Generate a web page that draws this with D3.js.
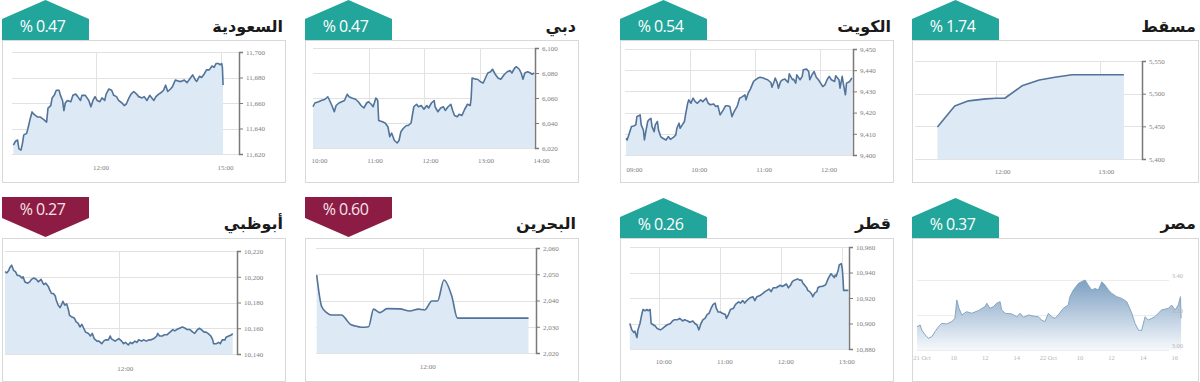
<!DOCTYPE html>
<html>
<head>
<meta charset="utf-8">
<script src="https://cdn.jsdelivr.net/npm/d3@7"></script>
<style>
body { margin: 0; background: #fff; }
svg { display: block; }
</style>
</head>
<body>
<div id="chart"></div>
<script>
// Markets, daily change and direction (badge)
const markets = ['السعودية', 'دبي', 'الكويت', 'مسقط', 'أبوظبي', 'البحرين', 'قطر', 'مصر'];
const changes = ['0.47', '0.47', '0.54', '1.74', '0.27', '0.60', '0.26', '0.37'];
const direction = ['up', 'up', 'up', 'up', 'down', 'down', 'up', 'up'];

// Series: [minutes since midnight, index value]
const saudi = [[600,11627],[603,11630],[606,11631],[608,11624],[611,11623],[613,11628],[615,11635],[619,11636],[621,11640],[624,11647],[627,11653],[630,11651],[635,11649],[639,11649],[644,11647],[648,11645],[650,11656],[654,11658],[656,11664],[659,11666],[662,11670],[666,11670],[668,11666],[671,11662],[673,11654],[675,11660],[678,11662],[683,11661],[686,11666],[690,11667],[693,11665],[697,11662],[699,11666],[704,11666],[709,11662],[712,11657],[715,11662],[718,11665],[721,11662],[725,11661],[728,11664],[732,11662],[734,11667],[738,11671],[742,11670],[745,11666],[749,11665],[752,11662],[757,11660],[760,11658],[763,11659],[767,11664],[770,11667],[774,11669],[778,11667],[781,11665],[786,11664],[789,11665],[793,11662],[797,11666],[800,11664],[803,11662],[806,11665],[810,11667],[813,11668],[817,11670],[820,11674],[823,11669],[827,11671],[830,11673],[834,11678],[839,11677],[843,11677],[847,11678],[851,11676],[855,11679],[859,11682],[863,11678],[865,11677],[869,11681],[872,11680],[876,11683],[879,11686],[883,11686],[887,11689],[890,11688],[893,11691],[896,11691],[899,11690],[901,11691],[902,11688],[903,11674]];
const dubai = [[600,6053],[602,6056],[606,6057],[609,6058],[613,6059],[616,6061],[618,6058],[621,6053],[623,6049],[625,6054],[628,6056],[631,6057],[634,6058],[637,6063],[639,6061],[642,6060],[646,6059],[649,6057],[652,6054],[655,6052],[658,6056],[660,6057],[663,6055],[665,6053],[668,6060],[670,6058],[671,6042],[675,6041],[678,6040],[681,6037],[683,6029],[685,6032],[688,6026],[691,6024],[693,6026],[695,6033],[698,6036],[701,6038],[703,6038],[706,6040],[709,6053],[712,6055],[714,6053],[717,6054],[720,6051],[723,6054],[725,6052],[728,6056],[731,6058],[732,6053],[735,6049],[738,6052],[741,6053],[743,6050],[746,6053],[749,6055],[751,6050],[753,6046],[756,6045],[758,6047],[761,6046],[764,6051],[767,6055],[770,6054],[771,6060],[772,6076],[776,6075],[778,6075],[781,6073],[784,6072],[787,6077],[789,6080],[792,6081],[794,6083],[797,6079],[800,6076],[803,6075],[805,6077],[807,6079],[810,6081],[813,6082],[815,6080],[818,6084],[820,6085],[823,6083],[825,6080],[827,6075],[829,6080],[832,6081],[835,6080],[837,6079],[839,6080]];
const kuwait = [[541,9407.9],[542,9407.1],[544,9410.3],[546,9413.4],[548,9413.7],[550,9414.2],[551,9418.1],[554,9418.9],[555,9414.2],[557,9411.8],[558,9407.1],[559,9410.3],[561,9415.8],[562,9416.6],[564,9417.3],[565,9413.4],[567,9411],[568,9414.2],[570,9415.8],[571,9411.8],[573,9408.7],[575,9407.9],[578,9407.1],[580,9408.7],[582,9407.4],[585,9408.4],[587,9409.5],[588,9412.6],[590,9415],[591,9412.6],[593,9414.2],[595,9415.8],[596,9418.9],[598,9424.4],[599,9426],[601,9424.4],[603,9426.8],[605,9425.2],[607,9424.4],[610,9426],[612,9425.2],[615,9426.8],[617,9424.4],[619,9423.7],[622,9424.1],[624,9422.9],[626,9423.2],[628,9418.9],[631,9421.3],[633,9423.2],[635,9423.2],[637,9422.9],[639,9418.1],[641,9420.5],[644,9423.2],[646,9426.8],[648,9427.3],[651,9428.4],[652,9426],[654,9429.2],[656,9431.1],[659,9434.7],[661,9435.5],[663,9436.3],[665,9436.7],[668,9436.3],[670,9435.8],[672,9435.5],[675,9434.2],[676,9432],[678,9434.7],[679,9436.3],[681,9433.9],[682,9431.5],[684,9434.7],[686,9435.5],[688,9435.8],[691,9434.2],[692,9438.3],[695,9435.5],[696,9435.8],[698,9433.9],[699,9437.8],[702,9435.5],[704,9437.1],[705,9440.2],[708,9440.5],[710,9439.4],[711,9435.5],[713,9437.8],[715,9439.4],[717,9436.7],[719,9435.5],[721,9433.9],[723,9432.3],[725,9433.1],[727,9435.5],[729,9437.1],[731,9435.5],[734,9434.7],[735,9437.4],[738,9435.5],[739,9431.5],[741,9437.1],[742,9433.9],[744,9428.4],[745,9433.9],[748,9434.7],[750,9436.3]];
const muscat = [[686,5449],[696,5481],[704,5489],[714,5492],[720,5493],[725,5493],[735,5512],[745,5521],[754,5525],[764,5529],[794,5529]];
const abuDhabi = [[600,10204],[602,10203],[604,10205],[605,10207],[607,10209],[609,10205],[611,10204],[613,10201],[615,10201],[618,10199],[619,10200],[621,10196],[624,10195],[626,10196],[628,10198],[630,10199],[633,10198],[635,10196],[638,10198],[640,10195],[641,10194],[643,10195],[646,10192],[647,10190],[649,10187],[651,10187],[653,10185],[654,10182],[656,10178],[658,10176],[660,10179],[661,10181],[663,10178],[665,10179],[667,10174],[668,10170],[670,10169],[673,10168],[675,10165],[677,10164],[679,10161],[681,10163],[683,10160],[685,10157],[688,10156],[690,10154],[692,10156],[694,10152],[697,10150],[699,10150],[702,10148],[704,10150],[706,10151],[709,10151],[711,10154],[712,10152],[714,10151],[716,10150],[718,10151],[720,10152],[723,10150],[725,10148],[727,10149],[730,10147],[732,10149],[734,10148],[737,10150],[739,10149],[741,10151],[744,10150],[746,10151],[749,10150],[752,10151],[754,10151],[757,10152],[760,10154],[761,10156],[763,10154],[766,10154],[768,10155],[771,10155],[774,10157],[777,10159],[779,10158],[781,10159],[784,10160],[787,10161],[790,10160],[792,10159],[795,10159],[798,10157],[800,10156],[803,10159],[805,10160],[807,10159],[810,10157],[812,10157],[814,10156],[817,10154],[819,10151],[820,10148],[823,10148],[825,10149],[827,10148],[829,10151],[832,10151],[833,10153],[836,10154],[839,10155],[840,10156]];
const bahrain = [[570,2049.7],[577,2037.7],[584,2035.4],[591,2034.5],[605,2034.5],[612,2032.6],[617,2031],[624,2030.3],[633,2029.8],[643,2030],[650,2036.7],[659,2035.4],[669,2036.9],[687,2036.8],[701,2036],[713,2036.7],[722,2036.4],[732,2039.8],[740,2039.8],[749,2047.8],[760,2041.7],[768,2033.3],[781,2033.3],[868,2033.3]];
const qatar = [[571,10900],[573,10895],[575,10893],[576,10894],[578,10889],[579,10895],[581,10900],[583,10908],[584,10911],[586,10910],[588,10911],[589,10910],[591,10911],[592,10900],[594,10899],[596,10898],[598,10896],[601,10895],[603,10896],[606,10898],[608,10899],[611,10900],[613,10902],[615,10903],[618,10903],[620,10904],[623,10902],[625,10903],[628,10902],[630,10901],[633,10902],[635,10900],[637,10899],[639,10895],[641,10900],[643,10903],[645,10904],[647,10907],[649,10908],[651,10912],[653,10915],[655,10916],[656,10912],[658,10909],[660,10909],[662,10908],[665,10907],[666,10904],[668,10907],[670,10911],[673,10912],[675,10915],[678,10917],[680,10916],[682,10918],[684,10916],[686,10918],[689,10920],[692,10921],[694,10918],[696,10921],[699,10922],[701,10923],[704,10925],[706,10926],[708,10927],[710,10925],[712,10928],[715,10928],[717,10929],[719,10930],[721,10929],[723,10930],[725,10931],[727,10928],[729,10930],[731,10933],[733,10934],[736,10935],[738,10934],[740,10934],[741,10932],[743,10930],[745,10928],[746,10926],[748,10925],[750,10923],[751,10921],[753,10924],[755,10925],[756,10928],[758,10929],[760,10929],[763,10930],[764,10931],[766,10935],[768,10938],[769,10939],[770,10938],[772,10936],[773,10938],[774,10937],[776,10942],[777,10946],[779,10947],[780,10943],[780.7,10935],[781.3,10926],[783,10926],[786,10926]];
// Egypt: [position on the date axis, index value in thousands]
const egypt = [[-0.16,3.133],[-0.06,3.143],[-0.01,3.114],[0.1,3.086],[0.2,3.067],[0.31,3.076],[0.41,3.105],[0.52,3.133],[0.62,3.152],[0.78,3.149],[0.94,3.162],[1.04,3.181],[1.1,3.286],[1.17,3.238],[1.26,3.2],[1.41,3.219],[1.57,3.21],[1.78,3.225],[1.99,3.248],[2.05,3.267],[2.15,3.238],[2.26,3.248],[2.36,3.267],[2.47,3.276],[2.52,3.229],[2.63,3.21],[2.84,3.206],[3.0,3.19],[3.1,3.21],[3.21,3.187],[3.37,3.2],[3.52,3.194],[3.68,3.19],[3.79,3.171],[3.89,3.162],[4.0,3.21],[4.1,3.19],[4.21,3.181],[4.31,3.2],[4.47,3.238],[4.63,3.257],[4.68,3.305],[4.79,3.343],[4.95,3.381],[5.16,3.4],[5.26,3.371],[5.37,3.343],[5.48,3.352],[5.58,3.343],[5.69,3.39],[5.79,3.371],[5.9,3.343],[6.0,3.324],[6.16,3.305],[6.32,3.295],[6.48,3.276],[6.64,3.21],[6.74,3.152],[6.85,3.114],[6.95,3.111],[7.06,3.19],[7.16,3.171],[7.27,3.181],[7.37,3.19],[7.58,3.229],[7.8,3.238],[7.9,3.257],[8.01,3.229],[8.11,3.257],[8.18,3.305],[8.2,3.181]];

// Tick values
const saudiY = [11620, 11640, 11660, 11680, 11700];
const saudiX = [720, 900];
const dubaiY = [6020, 6040, 6060, 6080, 6100];
const dubaiX = [600, 660, 720, 780, 840];
const kuwaitY = [9400, 9410, 9420, 9430, 9440, 9450];
const kuwaitX = [540, 600, 660, 720];
const muscatY = [5400, 5450, 5500, 5550];
const muscatX = [720, 780];
const abuDhabiY = [10140, 10160, 10180, 10200, 10220];
const abuDhabiX = [720];
const bahrainY = [2020, 2030, 2040, 2050, 2060];
const bahrainX = [720];
const qatarY = [10880, 10900, 10920, 10940, 10960];
const qatarX = [600, 660, 720, 780];
const egyptY = [3.0, 3.2, 3.4];
const egyptX = [0, 1, 2, 3, 4, 5, 6, 7, 8];
const egyptXLabels = ['21 Oct', '10', '12', '14', '22 Oct', '10', '12', '14', '16'];

const W = 1200, H = 382;
const teal = '#22a59b', wine = '#8c1c43';
const lineColor = '#52739a', fillColor = '#dde9f4';

const svg = d3.select('#chart').append('svg')
    .attr('width', W)
    .attr('height', H);

// Gradient for the Egypt chart
const grad = svg.append('defs').append('linearGradient')
    .attr('id', 'egyptFill')
    .attr('gradientUnits', 'userSpaceOnUse')
    .attr('x1', 0).attr('x2', 0).attr('y1', 268).attr('y2', 350);
grad.append('stop').attr('offset', 0).attr('stop-color', '#6890b8');
grad.append('stop').attr('offset', 1).attr('stop-color', '#f6f9fc');

const hhmm = m => `${String(Math.floor(m / 60)).padStart(2, '0')}:${String(m % 60).padStart(2, '0')}`;

// Layout of each panel: box, plot area (x0, x1, yTop, yBottom)
const panels = [
    { data: saudi, box: [2, 40, 285, 182], plot: [12, 239, 52, 154], xDomain: [598, 926], yDomain: [11620, 11700], yTicks: saudiY, xTicks: saudiX, labelY: 169, dx: 4 },
    { data: dubai, box: [305, 40, 578, 182], plot: [313, 535, 48, 148], xDomain: [600, 840], yDomain: [6020, 6100], yTicks: dubaiY, xTicks: dubaiX, labelY: 162, dx: 6 },
    { data: kuwait, box: [620, 40, 893, 182], plot: [625, 853, 49, 155], xDomain: [540, 751], yDomain: [9400, 9450], yTicks: kuwaitY, xTicks: kuwaitX, labelY: 171, dx: 9 },
    { data: muscat, box: [912, 40, 1198, 182], plot: [915, 1142, 61, 159], xDomain: [673, 804.5], yDomain: [5400, 5550], yTicks: muscatY, xTicks: muscatX, labelY: 173, dx: 6 },
    { data: abuDhabi, box: [2, 238, 285, 381], plot: [5, 237, 251, 354], xDomain: [600, 844.6], yDomain: [10140, 10220], yTicks: abuDhabiY, xTicks: abuDhabiX, labelY: 370, dx: 6 },
    { data: bahrain, box: [305, 238, 578, 381], plot: [316, 536, 248, 353], xDomain: [569, 878.5], yDomain: [2020, 2060], yTicks: bahrainY, xTicks: bahrainX, labelY: 368, dx: 4, curve: d3.curveMonotoneX },
    { data: qatar, box: [620, 238, 893, 381], plot: [630, 849, 247, 349], xDomain: [571.2, 786.6], yDomain: [10880, 10960], yTicks: qatarY, xTicks: qatarX, labelY: 363, dx: 4 },
    { data: egypt, box: [912, 238, 1198, 381], plot: [917, 1183, 280, 350], xDomain: [-0.16, 8.26], yDomain: [3.0, 3.4], yTicks: egyptY, xTicks: egyptX, labelY: 358, dx: 0, egypt: true }
];

panels.forEach((p, i) => {
    const g = svg.append('g');
    const [bx0, by0, bx1, by1] = p.box;
    const [px0, px1, pyTop, pyBot] = p.plot;

    // dotted frame
    g.append('rect')
        .attr('x', bx0 + 0.5).attr('y', by0 + 0.5)
        .attr('width', bx1 - bx0).attr('height', by1 - by0)
        .attr('fill', 'none')
        .attr('stroke', '#b0b0b0')
        .attr('stroke-dasharray', '1,1');

    const x = d3.scaleLinear().domain(p.xDomain).range([px0, px1]);
    const y = d3.scaleLinear().domain(p.yDomain).range([pyBot, pyTop]);

    // horizontal grid
    g.selectAll('.hgrid')
        .data(p.yTicks)
        .enter()
        .append('line')
        .attr('x1', px0).attr('x2', p.egypt ? px1 - 14 : px1)
        .attr('y1', d => Math.round(y(d)) + 0.5).attr('y2', d => Math.round(y(d)) + 0.5)
        .attr('stroke', p.egypt ? '#ececec' : '#e2e2e2');

    // vertical grid
    if (!p.egypt) {
        g.selectAll('.vgrid')
            .data(p.xTicks.filter(t => x(t) > px0 + 3 && x(t) < px1 - 3))
            .enter()
            .append('line')
            .attr('x1', d => Math.round(x(d)) + 0.5).attr('x2', d => Math.round(x(d)) + 0.5)
            .attr('y1', pyTop).attr('y2', pyBot)
            .attr('stroke', '#e2e2e2');
    }

    const curve = p.curve || d3.curveLinear;
    const area = d3.area()
        .x(d => x(d[0]))
        .y0(y(p.yDomain[0]))
        .y1(d => y(d[1]))
        .curve(curve);
    const line = d3.line()
        .x(d => x(d[0]))
        .y(d => y(d[1]))
        .curve(curve);

    g.append('path')
        .datum(p.data)
        .attr('d', area)
        .attr('fill', p.egypt ? 'url(#egyptFill)' : fillColor);

    g.append('path')
        .datum(p.data)
        .attr('d', line)
        .attr('fill', 'none')
        .attr('stroke', p.egypt ? '#86a6c4' : lineColor)
        .attr('stroke-width', p.egypt ? 1 : 1.6)
        .attr('stroke-linejoin', 'round');

    // axes
    if (p.egypt) {
        g.selectAll('.ylab')
            .data(p.yTicks)
            .enter()
            .append('text')
            .attr('x', px1)
            .attr('y', d => y(d) - 2)
            .attr('text-anchor', 'end')
            .attr('font-family', 'Liberation Serif, serif')
            .attr('font-size', 6.5)
            .attr('fill', '#b5b5b5')
            .text(d => d3.format('.2f')(d));

        g.selectAll('.xlab')
            .data(p.xTicks)
            .enter()
            .append('text')
            .attr('x', d => x(d))
            .attr('y', p.labelY + 2)
            .attr('text-anchor', 'middle')
            .attr('font-family', 'Liberation Serif, serif')
            .attr('font-size', 6.5)
            .attr('fill', '#b5b5b5')
            .text((d, k) => egyptXLabels[k]);
    } else {
        const yAxis = g.append('g')
            .attr('transform', `translate(${px1}, 0)`)
            .call(d3.axisRight(y).tickValues(p.yTicks).tickSize(4).tickSizeOuter(4).tickPadding(3).tickFormat(d3.format(',')));
        yAxis.select('.domain').attr('stroke', '#7a7a7a').attr('stroke-width', 1.5);
        yAxis.selectAll('.tick line').attr('stroke', '#7a7a7a');
        yAxis.selectAll('text')
            .attr('font-family', 'Liberation Serif, serif')
            .attr('font-size', 7)
            .attr('fill', '#7d7d7d');

        const xAxis = g.append('g')
            .attr('transform', `translate(${p.dx}, ${p.labelY - 4})`)
            .call(d3.axisBottom(x).tickValues(p.xTicks).tickSize(0).tickPadding(0).tickFormat(hhmm));
        xAxis.select('.domain').remove();
        xAxis.selectAll('text')
            .attr('font-family', 'Liberation Serif, serif')
            .attr('font-size', 7)
            .attr('fill', '#7d7d7d');
    }

    // title
    g.append('text')
        .attr('x', bx1 - 2)
        .attr('y', by0 < 100 ? 32 : 229)
        .attr('text-anchor', 'end')
        .attr('font-family', 'DejaVu Sans, sans-serif')
        .attr('font-weight', 'bold')
        .attr('font-size', 16)
        .attr('fill', '#1a1a1a')
        .text(markets[i]);

    // change badge
    const bw0 = bx0, bw1 = bx0 + 87, cx = (bw0 + bw1) / 2;
    const up = direction[i] === 'up';
    const shape = up
        ? [[bw0, by0], [bw0, by0 - 21], [cx, by0 - 40], [bw1, by0 - 21], [bw1, by0]]
        : [[bw0, by0 - 41], [bw1, by0 - 41], [bw1, by0 - 20], [cx, by0 - 1], [bw0, by0 - 20]];
    g.append('path')
        .attr('d', d3.line()(shape) + 'Z')
        .attr('fill', up ? teal : wine);
    g.append('text')
        .attr('x', cx - 3)
        .attr('y', up ? by0 - 8 : by0 - 23)
        .attr('text-anchor', 'middle')
        .attr('font-family', 'Open Sans, sans-serif')
        .attr('font-size', 16)
        .attr('letter-spacing', -0.6)
        .attr('fill', up ? '#ffffff' : '#f6e3ea')
        .text(`% ${changes[i]}`);
});
</script>
</body>
</html>
